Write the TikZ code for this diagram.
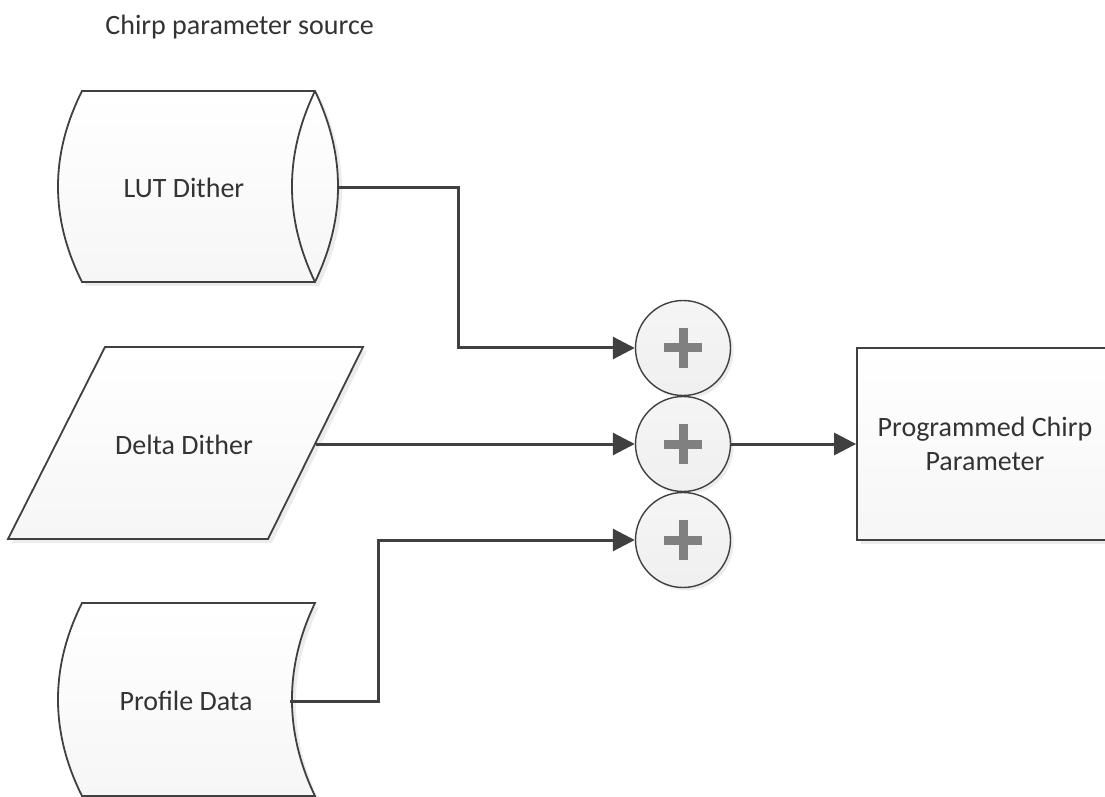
\documentclass[tikz,border=0pt]{standalone}
\usepackage{fontspec}
\setmainfont{Carlito}
\usetikzlibrary{arrows.meta,shadows}
\definecolor{linegray}{HTML}{404040}
\definecolor{txtgray}{HTML}{333333}
\definecolor{plusgray}{HTML}{808080}
\tikzset{
  src/.style={draw=linegray, line width=0.9pt, top color=white, bottom color=gray!7,
    drop shadow={opacity=0.15, shadow xshift=2pt, shadow yshift=-2pt}},
  lbl/.style={text=txtgray, font=\fontsize{14}{17}\selectfont},
  conn/.style={draw=linegray, line width=1.5pt, -{Triangle[length=11pt,width=11pt]}},
  sum/.style={circle, draw=linegray, line width=0.7pt, minimum size=47.5pt, inner sep=0pt,
    top color=gray!8, bottom color=gray!12,
    drop shadow={opacity=0.15, shadow xshift=1.5pt, shadow yshift=-1.5pt}},
  plus/.style={draw=plusgray, line width=4.5pt},
  outbox/.style={src, rectangle, lbl, align=center, minimum width=128pt, minimum height=96pt}
}
\begin{document}
\begin{tikzpicture}[x=0.5pt,y=-0.5pt]
\useasboundingbox (0,0) rectangle (1105,797);

\node [lbl, anchor=west, inner sep=0pt] (title) at (105,27) {Chirp parameter source};

% LUT Dither
\draw [src] (82,91) -- (315,91) .. controls (345.7,155) and (345.7,218) .. (315,282)
  -- (82,282) .. controls (50,218) and (50,155) .. (82,91) -- cycle;
\draw [draw=linegray, line width=0.9pt] (315,91) .. controls (284.3,155) and (284.3,218) .. (315,282);
\node [lbl] (lut) at (184,188) {LUT Dither};
\coordinate (lut-out) at (338,188);

% Delta Dither
\draw [src] (105,347) -- (363,347) -- (268,539) -- (8,539) -- cycle;
\node [lbl] (delta) at (184,445) {Delta Dither};
\coordinate (delta-out) at (316,444);

% Profile Data
\draw [src] (82,603) -- (315,603) .. controls (284.3,667) and (284.3,732) .. (315,796)
  -- (82,796) .. controls (50,732) and (50,667) .. (82,603) -- cycle;
\node [lbl] (prof) at (186,701) {Profile Data};
\coordinate (prof-out) at (290,701);

% adders
\node [sum] (sum1) at (683,348) {};
\node [sum] (sum2) at (683,444) {};
\node [sum] (sum3) at (683,540) {};
\foreach \s in {sum1,sum2,sum3}
  \draw [plus] (\s.center) +(-19,0) -- +(19,0) (\s.center) +(0,-20) -- +(0,20);

\node [outbox] (out) at (985,444) {Programmed Chirp\\Parameter};

\draw [conn] (lut-out) -- ++(120,0) |- (sum1);
\draw [conn] (delta-out) -- (sum2);
\draw [conn] (prof-out) -- ++(88,0) |- (sum3);
\draw [conn] (sum2) -- (out);
\end{tikzpicture}
\end{document}
